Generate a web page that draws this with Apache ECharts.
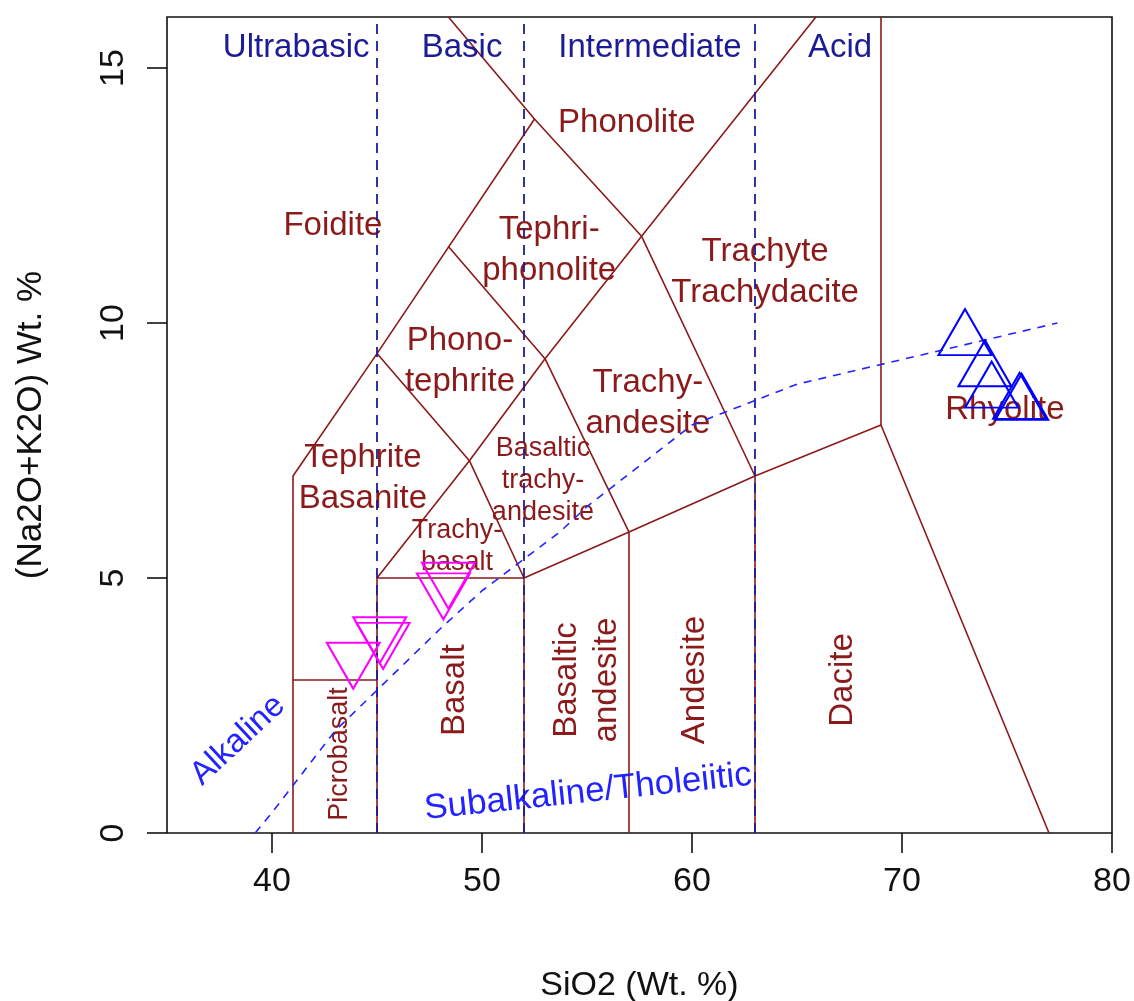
<!DOCTYPE html>
<html>
<head>
<meta charset="utf-8">
<script src="https://cdn.jsdelivr.net/npm/echarts@6/dist/echarts.min.js"></script>
<style>
  html, body { margin: 0; padding: 0; background: #ffffff; }
  #chart { width: 1134px; height: 1001px; }
</style>
</head>
<body>
<div id="chart"></div>
<script>
// Axis ticks
const xTicks = [40, 50, 60, 70, 80];
const yTicks = [0, 5, 10, 15];

// TAS field boundaries, points are [SiO2, Na2O+K2O]
const lineFoidite      = [[41, 0], [41, 7], [45, 9.4], [52.5, 14]];
const lineUpper        = [[48.4, 16], [52.5, 14], [57.6, 11.7], [63, 7]];
const lineLower        = [[45, 5], [52, 5], [57, 5.9], [63, 7], [69, 8], [77, 0]];
const lineTrachyte     = [[45, 5], [49.4, 7.3], [53, 9.3], [57.6, 11.7], [65.9, 16]];
const lineTephrite     = [[45, 9.4], [49.4, 7.3], [52, 5]];
const lineTephriphon   = [[48.4, 11.5], [53, 9.3], [57, 5.9]];
const lineRhyolite     = [[69, 8], [69, 16]];
const linePicrobasalt  = [[41, 3], [45, 3]];
const lineBasaltLeft   = [[45, 0], [45, 5]];
const lineBasaltRight  = [[52, 0], [52, 5]];
const lineAndesiteLeft = [[57, 0], [57, 5.9]];
const lineDaciteLeft   = [[63, 0], [63, 7]];

// Silica classes: ultrabasic / basic / intermediate / acid limits
const silicaLimits = [45, 52, 63];
const silicaClassNames = ['Ultrabasic', 'Basic', 'Intermediate', 'Acid'];
const silicaClassX = [41.15, 49.05, 58.0, 67.05];

// Alkaline / subalkaline divide (Irvine & Baragar)
const alkalineDivide = [[39.2, 0], [40, 0.4], [43, 2], [45, 2.8], [48, 4], [50, 4.75],
                        [53.7, 5.9], [55, 6.4], [60, 8], [65, 8.8], [77.4, 10]];

// Samples
const samplesMafic  = [[43.87, 3.43], [45.13, 3.93], [45.29, 3.82], [48.4, 5.0], [48.16, 4.79]];
const samplesFelsic = [[73.0, 9.67], [73.95, 9.06], [74.27, 8.64], [75.6, 8.42], [75.7, 8.4]];

// Field names and their anchor points
const fieldNames = ['Phonolite', 'Foidite', 'Tephri-\nphonolite', 'Trachyte\nTrachydacite',
                    'Phono-\ntephrite', 'Trachy-\nandesite', 'Tephrite\nBasanite', 'Rhyolite'];
const fieldAnchors = [[56.9, 13.92], [42.9, 11.9], [53.2, 11.43], [63.48, 11.0],
                      [48.95, 9.25], [57.9, 8.43], [44.33, 6.96], [74.9, 8.29]];

const smallFieldNames = ['Basaltic\ntrachy-\nandesite', 'Trachy-\nbasalt'];
const smallFieldAnchors = [[52.9, 6.92], [48.81, 5.61]];

const verticalFieldNames = ['Basalt', 'Basaltic\nandesite', 'Andesite', 'Dacite'];
const verticalFieldAnchors = [[48.71, 2.8], [55.0, 3.0], [60.14, 3.0], [67.19, 3.0]];

const FONT = "'Liberation Sans', Arial, sans-serif";
const FIELD_COLOR = '#8b1a1a';
const CLASS_COLOR = '#1c1c96';
const DIVIDE_COLOR = '#2323ff';

function boundary(data) {
  return {
    type: 'line', data: data, showSymbol: false, symbol: 'none', silent: true,
    lineStyle: { color: FIELD_COLOR, width: 1.6 }, z: 2, animation: false
  };
}

function textLayer(names, anchors, size, color, rotate, lineHeight, z) {
  return {
    type: 'scatter', silent: true, animation: false, z: z || 3,
    symbolSize: 1, itemStyle: { color: 'rgba(0,0,0,0)', opacity: 1 },
    data: names.map((n, i) => ({ name: n, value: anchors[i] })),
    label: {
      show: true, position: 'inside', formatter: p => p.name, opacity: 1,
      fontFamily: FONT, fontSize: size, color: color, rotate: rotate || 0,
      lineHeight: lineHeight, align: 'center', verticalAlign: 'middle'
    }
  };
}

const series = [];
[lineFoidite, lineUpper, lineLower, lineTrachyte, lineTephrite, lineTephriphon,
 lineRhyolite, linePicrobasalt, lineBasaltLeft, lineBasaltRight, lineAndesiteLeft,
 lineDaciteLeft].forEach(l => series.push(boundary(l)));

silicaLimits.forEach(x => series.push({
  type: 'line', data: [[x, 0], [x, 16]], showSymbol: false, symbol: 'none', silent: true,
  lineStyle: { color: CLASS_COLOR, width: 1.8, type: [10, 7] }, z: 4, animation: false
}));

series.push({
  type: 'line', data: alkalineDivide, showSymbol: false, symbol: 'none', silent: true,
  lineStyle: { color: DIVIDE_COLOR, width: 1.6, type: [8, 7] }, z: 4, animation: false
});

series.push(textLayer(fieldNames, fieldAnchors, 33, FIELD_COLOR, 0, 41));
series.push(textLayer(smallFieldNames, smallFieldAnchors, 27, FIELD_COLOR, 0, 32));
series.push(textLayer(verticalFieldNames, verticalFieldAnchors, 33, FIELD_COLOR, 90, 40));
series.push(textLayer(['Picrobasalt'], [[43.24, 1.55]], 27, FIELD_COLOR, 90, 32));
series.push(textLayer(silicaClassNames, silicaClassX.map(x => [x, 15.4]), 33, CLASS_COLOR, 0, 40));
series.push(textLayer(['Alkaline'], [[38.38, 1.82]], 33, DIVIDE_COLOR, 43, 40));
series.push(textLayer(['Subalkaline/Tholeiitic'], [[55.05, 0.8]], 35, DIVIDE_COLOR, 6, 40));

series.push({
  type: 'scatter', data: samplesMafic, silent: true, animation: false, z: 6,
  symbol: 'triangle', symbolSize: [53, 46], symbolRotate: 180, symbolOffset: [0, 7.7],
  itemStyle: { color: 'rgba(0,0,0,0)', opacity: 1, borderColor: '#ff00ff', borderWidth: 2 }
});
series.push({
  type: 'scatter', data: samplesFelsic, silent: true, animation: false, z: 6,
  symbol: 'triangle', symbolSize: [53, 46], symbolOffset: [0, -7.7],
  itemStyle: { color: 'rgba(0,0,0,0)', opacity: 1, borderColor: '#0000ff', borderWidth: 2 }
});

const chart = echarts.init(document.getElementById('chart'), null, { renderer: 'canvas' });
chart.setOption({
  backgroundColor: '#ffffff',
  animation: false,
  grid: {
    left: 167, right: 22, top: 17, bottom: 168,
    show: true, borderColor: '#111', borderWidth: 1.6, backgroundColor: 'transparent',
    containLabel: false, outerBoundsMode: 'none'
  },
  xAxis: {
    type: 'value', min: 35, max: 80,
    name: 'SiO2 (Wt. %)', nameLocation: 'middle', nameGap: 136,
    nameTextStyle: { fontFamily: FONT, fontSize: 34, color: '#111' },
    axisLine: { show: false },
    axisTick: { show: true, inside: false, length: 20, customValues: xTicks,
                lineStyle: { color: '#111', width: 1.6 } },
    axisLabel: { show: true, margin: 32, customValues: xTicks, fontFamily: FONT, fontSize: 34, color: '#111' },
    splitLine: { show: false }
  },
  yAxis: {
    type: 'value', min: 0, max: 16,
    name: '(Na2O+K2O) Wt. %', nameLocation: 'middle', nameGap: 118,
    nameTextStyle: { fontFamily: FONT, fontSize: 35, color: '#111' },
    axisLine: { show: false },
    axisTick: { show: true, inside: false, length: 20, customValues: yTicks,
                lineStyle: { color: '#111', width: 1.6 } },
    axisLabel: { show: true, margin: 36, rotate: 90, customValues: yTicks, fontFamily: FONT, fontSize: 34, color: '#111' },
    splitLine: { show: false }
  },
  series: series
});
</script>
</body>
</html>
